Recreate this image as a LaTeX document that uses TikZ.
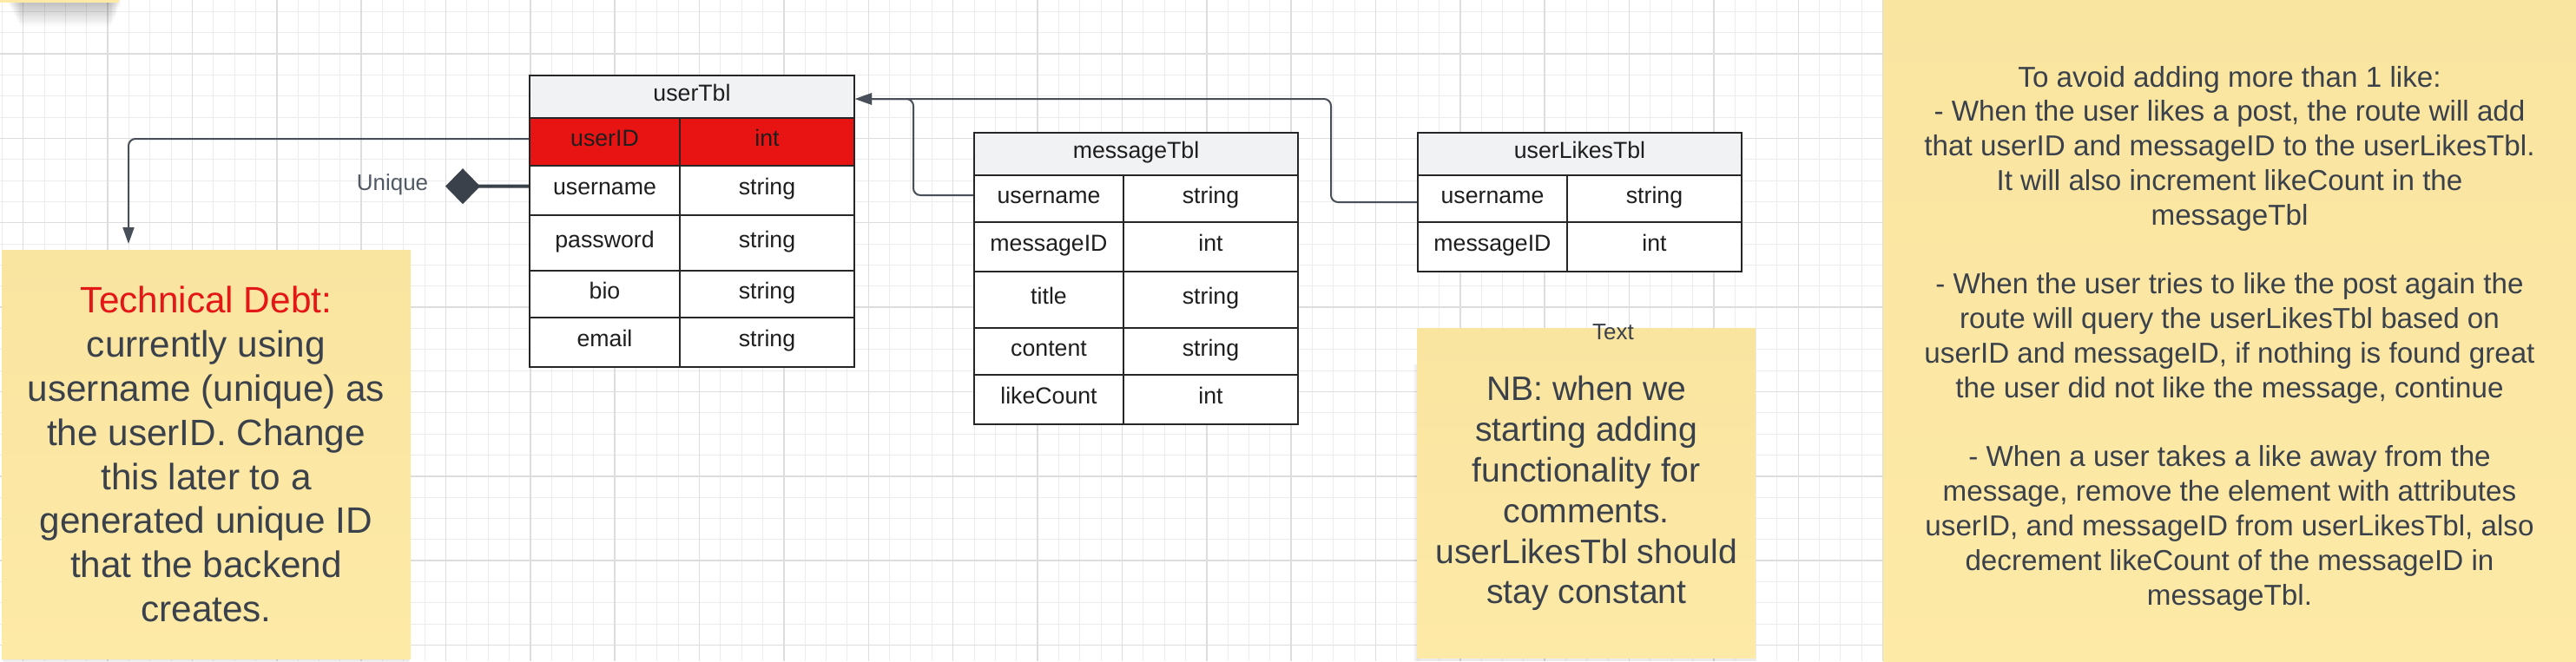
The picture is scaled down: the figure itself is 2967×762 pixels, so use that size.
\documentclass[tikz,border=0pt]{standalone}
\usepackage{fontspec}
\setmainfont{Liberation Sans}
\usetikzlibrary{arrows.meta}
\definecolor{gridminor}{RGB}{236,236,236}
\definecolor{gridmajor}{RGB}{221,221,221}
\definecolor{tblline}{RGB}{38,38,38}
\definecolor{tblhead}{RGB}{241,242,244}
\definecolor{tblred}{RGB}{232,20,20}
\definecolor{tbltext}{RGB}{30,30,30}
\definecolor{notetext}{RGB}{58,65,74}
\definecolor{notered}{RGB}{228,22,22}
\definecolor{notetop}{RGB}{249,228,160}
\definecolor{notebot}{RGB}{254,234,167}
\definecolor{connline}{RGB}{72,79,89}
\definecolor{uniqtext}{RGB}{80,88,100}
\begin{document}
\begin{tikzpicture}[x=0.5pt,y=-0.5pt,
  cell/.style={draw=tblline, line width=1pt, fill=white, inner sep=0pt,
    font=\fontsize{13.35pt}{16pt}\selectfont, text=tbltext,
    text height=0.72em, text depth=0.21em, anchor=center},
  headcell/.style={cell, fill=tblhead, minimum height=24.5pt},
  keycell/.style={cell, fill=tblred},
  ca/.style={minimum width=86.5pt},
  cb/.style={minimum width=100.5pt},
  ma/.style={minimum width=86pt},
  mb/.style={minimum width=100.5pt},
  note/.style={top color=notetop, bottom color=notebot, draw=none, inner sep=0pt,
    align=center, text=notetext},
  conn/.style={draw=connline, line width=1pt, rounded corners=4pt,
    -{Triangle[length=9.5pt,width=6.5pt]}},
  label/.style={font=\fontsize{13pt}{15.6pt}\selectfont}
]
\useasboundingbox (0,0) rectangle (2967,762);
\clip (0,0) rectangle (2967,762);
\fill[white] (0,0) rectangle (2967,762);
% grid
\foreach \i in {0,...,121} \draw[gridminor, line width=0.5pt] ({2.36+24.34*\i},0) -- ({2.36+24.34*\i},762);
\foreach \i in {0,...,30} \draw[gridminor, line width=0.5pt] (0,{13.32+24.34*\i}) -- (2967,{13.32+24.34*\i});
\foreach \j in {0,...,30} \draw[gridmajor, line width=0.75pt] ({26.7+97.36*\j},0) -- ({26.7+97.36*\j},762);
\foreach \j in {0,...,7} \draw[gridmajor, line width=0.75pt] (0,{62+97.36*\j}) -- (2967,{62+97.36*\j});

% partial sticky note at top left with its shadow
\foreach \k in {1,...,10} \fill[black, opacity=0.022] ({8+\k*1.5},-10) rectangle ({140-\k*1.2}, {3+\k*2.7});
\fill[notebot] (0,-20) rectangle (137,3);

% userTbl
\node[headcell, minimum width=187pt] (uh) at (797,111.5) {userTbl};
\node[keycell, ca, minimum height=27.5pt] (uid) at (696.5,163.5) {userID};
\node[keycell, cb, minimum height=27.5pt] (uidt) at (883.5,163.5) {int};
\node[cell, ca, minimum height=28.5pt] (un) at (696.5,219.5) {username};
\node[cell, cb, minimum height=28.5pt] (unt) at (883.5,219.5) {string};
\node[cell, ca, minimum height=32pt] (upw) at (696.5,280) {password};
\node[cell, cb, minimum height=32pt] (upwt) at (883.5,280) {string};
\node[cell, ca, minimum height=27pt] (ubio) at (696.5,339) {bio};
\node[cell, cb, minimum height=27pt] (ubiot) at (883.5,339) {string};
\node[cell, ca, minimum height=28.5pt] (uem) at (696.5,394.5) {email};
\node[cell, cb, minimum height=28.5pt] (uemt) at (883.5,394.5) {string};

% messageTbl
\node[headcell, minimum width=186.5pt] (mh) at (1308.5,177.5) {messageTbl};
\node[cell, ma, minimum height=27pt] (mun) at (1208,229) {username};
\node[cell, mb, minimum height=27pt] (munt) at (1394.5,229) {string};
\node[cell, ma, minimum height=28.5pt] (mid) at (1208,284.5) {messageID};
\node[cell, mb, minimum height=28.5pt] (midt) at (1394.5,284.5) {int};
\node[cell, ma, minimum height=32.5pt] (mti) at (1208,345.5) {title};
\node[cell, mb, minimum height=32.5pt] (mtit) at (1394.5,345.5) {string};
\node[cell, ma, minimum height=27pt] (mco) at (1208,405) {content};
\node[cell, mb, minimum height=27pt] (mcot) at (1394.5,405) {string};
\node[cell, ma, minimum height=28.5pt] (mlc) at (1208,460.5) {likeCount};
\node[cell, mb, minimum height=28.5pt] (mlct) at (1394.5,460.5) {int};

% userLikesTbl
\node[headcell, minimum width=186.5pt] (lh) at (1819.5,177.5) {userLikesTbl};
\node[cell, ma, minimum height=27pt] (lun) at (1719,229) {username};
\node[cell, mb, minimum height=27pt] (lunt) at (1905.5,229) {string};
\node[cell, ma, minimum height=28.5pt] (lid) at (1719,284.5) {messageID};
\node[cell, mb, minimum height=28.5pt] (lidt) at (1905.5,284.5) {int};

% notes
\foreach \k in {1,...,4} \fill[black, opacity=0.03] ({2+\k*0.5},288) rectangle ({473-\k*0.5},{759+\k*1.2});
\node[note, minimum width=235.5pt, minimum height=235.5pt,
  font=\fontsize{21.15pt}{25.4pt}\selectfont] (td) at (237.5,523.5)
  {{\color{notered}Technical Debt:}\\currently using\\username (unique) as\\the userID. Change\\this later to a\\generated unique ID\\that the backend\\creates.};

\foreach \k in {1,...,4} \fill[black, opacity=0.02] ({1632.5-\k*1.2},420) rectangle (2022,{762});
\node[note, minimum width=194.75pt, minimum height=190pt,
  font=\fontsize{19.55pt}{23.46pt}\selectfont] (nb) at (1827.25,568.5)
  {NB: when we\\starting adding\\functionality for\\comments.\\userLikesTbl should\\stay constant};
\node[label, text=notetext] (txtlbl) at (1858,383) {Text};

\node[note, minimum width=399pt, minimum height=400pt,
  font=\fontsize{16.6pt}{19.9pt}\selectfont] (rn) at (2568,390)
  {To avoid adding more than 1 like:\\
   - When the user likes a post, the route will add\\
   that userID and messageID to the userLikesTbl.\\
   It will also increment likeCount in the\\
   messageTbl\\[19.9pt]
   - When the user tries to like the post again the\\
   route will query the userLikesTbl based on\\
   userID and messageID, if nothing is found great\\
   the user did not like the message, continue\\[19.9pt]
   - When a user takes a like away from the\\
   message, remove the element with attributes\\
   userID, and messageID from userLikesTbl, also\\
   decrement likeCount of the messageID in\\
   messageTbl.};

% connectors
\coordinate (tdin) at (148,281);
\draw[conn] ([yshift=1.75pt]uid.west) -| (tdin);
\draw[conn] ([yshift=2pt]mun.west) -- ++(-34.5pt,0) |- ([yshift=-1.25pt]uh.east);
\draw[conn] ([yshift=-2pt]lun.west) -- ++(-49.5pt,0) |- ([yshift=-1.25pt]uh.east);
\coordinate (dmd) at (513,214.7);
\draw[draw=notetext, line width=2pt,
  -{Diamond[length=20pt,width=20.5pt,line width=0pt,fill=notetext]}] ([yshift=2.4pt]un.west) -- (dmd);
\node[label, text=uniqtext] (uniq) at (452,213) {Unique};
\end{tikzpicture}
\end{document}
